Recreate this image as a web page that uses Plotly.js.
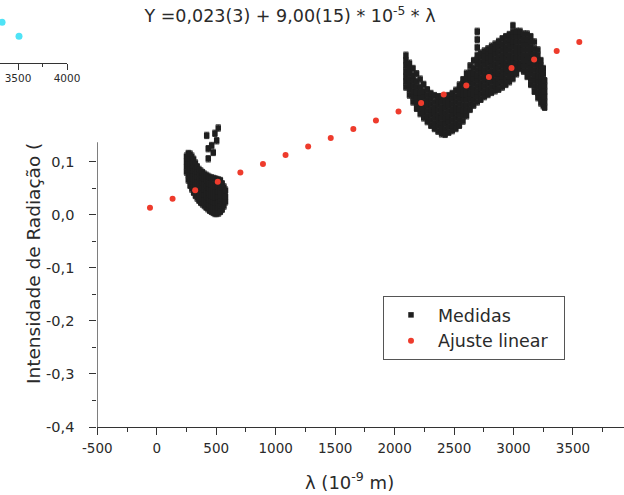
<!DOCTYPE html>
<html>
<head>
<meta charset="utf-8">
<script src="https://cdn.plot.ly/plotly-3.0.1.min.js"></script>
<style>html,body{margin:0;padding:0;background:#fff;}#chart{width:624px;height:495px;}</style>
</head>
<body>
<div id="chart"></div>
<script>
// ---- Data ----
// Cluster 1 (short wavelength): column x positions and the y values read in each column
const c1X = [250,265,280,295,310,325,340,355,370,385,400,415,430,445,460,475,490,505,520,535,550,565,578];
const c1Y = [
  [0.08,0.09,0.1,0.11],
  [0.065,0.075,0.085,0.095,0.105,0.115],
  [0.055,0.065,0.075,0.085,0.095,0.105,0.114],
  [0.048,0.058,0.068,0.078,0.088,0.098,0.11],
  [0.042,0.052,0.062,0.072,0.082,0.092,0.104],
  [0.036,0.046,0.056,0.066,0.076,0.086,0.097],
  [0.031,0.041,0.051,0.061,0.071,0.081,0.09],
  [0.027,0.037,0.047,0.057,0.067,0.077,0.085],
  [0.023,0.033,0.043,0.053,0.063,0.073,0.082],
  [0.02,0.03,0.04,0.05,0.06,0.07,0.079],
  [0.017,0.027,0.037,0.047,0.057,0.067,0.076],
  [0.014,0.024,0.034,0.044,0.054,0.064,0.074],
  [0.011,0.021,0.031,0.041,0.051,0.061,0.072],
  [0.008,0.018,0.028,0.038,0.048,0.058,0.07],
  [0.006,0.016,0.026,0.036,0.046,0.056,0.069],
  [0.004,0.014,0.024,0.034,0.044,0.055,0.068],
  [0.002,0.012,0.022,0.032,0.042,0.053,0.067],
  [0.002,0.012,0.022,0.032,0.042,0.053,0.066],
  [0.003,0.013,0.023,0.033,0.043,0.054,0.065],
  [0.006,0.016,0.026,0.036,0.046,0.056,0.064],
  [0.01,0.02,0.03,0.04,0.05,0.058],
  [0.016,0.026,0.036,0.045,0.052],
  [0.024,0.034,0.046]
];
// isolated points above cluster 1
const spurX = [433,433,462,504,420,489,517,475];
const spurY = [0.105,0.124,0.13,0.139,0.149,0.153,0.163,0.117];

// Cluster 2 (long wavelength)
const c2X = [2095,2125,2155,2185,2215,2245,2275,2305,2335,2365,2395,2425,2455,2485,2515,2545,2575,2605,2635,2665,2695,2725,2755,2785,2815,2845,2875,2905,2935,2965,2995,3025,3055,3085,3115,3145,3175,3205,3230,3250,3262];
const c2Y = [
  [0.24,0.25,0.26,0.27,0.28,0.29,0.3],
  [0.225,0.235,0.245,0.255,0.265,0.275,0.285],
  [0.212,0.222,0.232,0.242,0.252,0.262,0.275],
  [0.2,0.21,0.22,0.23,0.24,0.25,0.265],
  [0.19,0.2,0.21,0.22,0.23,0.24,0.255],
  [0.182,0.192,0.202,0.212,0.222,0.232,0.245],
  [0.175,0.185,0.195,0.205,0.215,0.225,0.235],
  [0.168,0.178,0.188,0.198,0.208,0.218,0.228],
  [0.162,0.172,0.182,0.192,0.202,0.212,0.224],
  [0.157,0.167,0.177,0.187,0.197,0.207,0.215,0.222],
  [0.152,0.162,0.172,0.182,0.192,0.202,0.212,0.222],
  [0.151,0.161,0.171,0.181,0.191,0.201,0.211,0.221],
  [0.155,0.165,0.175,0.185,0.195,0.205,0.215,0.224],
  [0.158,0.168,0.178,0.188,0.198,0.208,0.218,0.228],
  [0.162,0.172,0.182,0.192,0.202,0.212,0.222,0.234],
  [0.168,0.178,0.188,0.198,0.208,0.218,0.228,0.236,0.244],
  [0.176,0.186,0.196,0.206,0.216,0.226,0.236,0.246,0.254],
  [0.186,0.196,0.206,0.216,0.226,0.236,0.246,0.256,0.266],
  [0.198,0.208,0.218,0.228,0.238,0.248,0.258,0.268,0.28],
  [0.206,0.216,0.226,0.236,0.246,0.256,0.266,0.276,0.29],
  [0.212,0.222,0.232,0.242,0.252,0.262,0.272,0.282,0.292,0.3,0.315,0.33,0.345],
  [0.217,0.227,0.237,0.247,0.257,0.267,0.277,0.287,0.297,0.304],
  [0.222,0.232,0.242,0.252,0.262,0.272,0.282,0.292,0.3,0.308],
  [0.226,0.236,0.246,0.256,0.266,0.276,0.286,0.296,0.304,0.312],
  [0.23,0.24,0.25,0.26,0.27,0.28,0.29,0.3,0.309,0.317],
  [0.233,0.243,0.253,0.263,0.273,0.283,0.293,0.303,0.312,0.321],
  [0.236,0.246,0.256,0.266,0.276,0.286,0.296,0.306,0.316,0.326],
  [0.24,0.25,0.26,0.27,0.28,0.29,0.3,0.31,0.32,0.331],
  [0.245,0.255,0.265,0.275,0.285,0.295,0.305,0.315,0.325,0.335],
  [0.25,0.26,0.27,0.28,0.29,0.3,0.31,0.32,0.33,0.339],
  [0.256,0.266,0.276,0.286,0.296,0.306,0.316,0.326,0.336,0.344,0.356],
  [0.265,0.275,0.285,0.295,0.305,0.315,0.325,0.335,0.345],
  [0.275,0.285,0.295,0.305,0.315,0.325,0.335,0.345],
  [0.27,0.28,0.29,0.3,0.31,0.32,0.33,0.34],
  [0.26,0.27,0.28,0.29,0.3,0.31,0.32,0.33,0.34],
  [0.245,0.255,0.265,0.275,0.285,0.295,0.305,0.315,0.325,0.335],
  [0.232,0.242,0.252,0.262,0.272,0.282,0.292,0.302,0.312,0.325],
  [0.22,0.23,0.24,0.25,0.26,0.27,0.28,0.29,0.3,0.31],
  [0.21,0.22,0.23,0.24,0.25,0.26,0.27,0.28,0.29],
  [0.205,0.215,0.225,0.235,0.245,0.255,0.265,0.275],
  [0.202,0.212,0.222,0.232,0.242,0.252]
];
const measErr = 0.006;

// Linear fit points ("Ajuste linear")
const fitX = [-57,133,323,513,703,893,1083,1273,1463,1653,1843,2033,2223,2413,2603,2793,2983,3173,3363,3553];
const fitY = [0.013,0.030,0.046,0.062,0.079,0.095,0.112,0.128,0.144,0.161,0.177,0.194,0.210,0.226,0.243,0.259,0.276,0.292,0.308,0.325];

// Partial inset (top-left corner)
const insetX = [3337, 3510];
const insetY = [0.645, 0.42];
const insetTicks = [3500, 4000];

// Axis ticks
const xTicks = [-500,0,500,1000,1500,2000,2500,3000,3500];
const xMinor = [-250,250,750,1250,1750,2250,2750,3250,3750];
const yTicks = [-0.4,-0.3,-0.2,-0.1,0.0,0.1];
const yTickText = ['-0,4','-0,3','-0,2','-0,1','0,0','0,1'];
const yMinor = [-0.35,-0.25,-0.15,-0.05,0.05];

const titleText = 'Y =0,023(3) + 9,00(15) * 10<sup>-5</sup> * λ';
const xTitle = 'λ (10<sup>-9</sup> m)';
const yTitle = 'Intensidade de Radiação (';

// ---- Build flat measurement arrays ----
const measX = [], measY = [];
function addCols(xs, ys){ xs.forEach((x,i)=>ys[i].forEach(y=>{measX.push(x);measY.push(y);})); }
addCols(c1X, c1Y);
spurX.forEach((x,i)=>{measX.push(x);measY.push(spurY[i]);});
addCols(c2X, c2Y);

const FONT = 'DejaVu Sans, Arial, sans-serif';
const TXT = '#2a2a2a';
const LINE = '#333333';

const W = 624, H = 495, B = 68;
const plotH = H - B;
const x0px = 97.3;

const traces = [
  {
    type:'scatter', mode:'markers', name:'Medidas',
    x: measX, y: measY,
    marker:{symbol:'square', size:5.5, color:'#1f1f1f'},
    error_y:{type:'constant', value:measErr, color:'#333', thickness:1, width:2.5},
    legendgroup:'a', legendrank:1
  },
  {
    type:'scatter', mode:'markers', name:'Ajuste linear\u00a0\u00a0',
    x: fitX, y: fitY,
    marker:{symbol:'circle', size:6, color:'#ee3b2c'},
    legendgroup:'b', legendrank:2
  },
  {
    type:'scatter', mode:'markers', showlegend:false,
    x: insetX, y: insetY, xaxis:'x2', yaxis:'y2',
    marker:{symbol:'circle', size:7, color:'#4fe3f6'},
    cliponaxis:false
  }
];

const layout = {
  width: W, height: H,
  margin:{l:0, r:0, t:0, b:B, pad:0},
  paper_bgcolor:'#fff', plot_bgcolor:'rgba(0,0,0,0)',
  font:{family:FONT, color:TXT, size:14},
  showlegend:true,
  title:{text:titleText, x:290/W, xanchor:'center', xref:'paper', y:1-16/H, yanchor:'middle', yref:'container',
         font:{family:FONT, size:17.5, color:TXT}},
  xaxis:{
    domain:[x0px/W, 1], range:[-500, 3929], anchor:'y',
    showline:true, linecolor:LINE, linewidth:1.2, mirror:false,
    showgrid:false, zeroline:false,
    tickmode:'array', tickvals:xTicks, ticktext:xTicks.map(String),
    ticks:'outside', ticklen:7, tickwidth:1, tickcolor:LINE,
    ticklabelstandoff:2,
    tickfont:{family:FONT, size:13.5, color:TXT},
    minor:{tickmode:'array', tickvals:xMinor, ticks:'outside', ticklen:4, tickwidth:1, tickcolor:LINE}
  },
  yaxis:{
    domain:[0,1], range:[-0.4, 0.404], anchor:'x',
    showline:false, showgrid:false, zeroline:false,
    tickmode:'array', tickvals:yTicks, ticktext:yTickText,
    ticks:'outside', ticklen:7, tickwidth:1, tickcolor:LINE,
    ticklabelstandoff:12,
    tickfont:{family:FONT, size:14.5, color:TXT},
    minor:{tickmode:'array', tickvals:yMinor, ticks:'outside', ticklen:4, tickwidth:1, tickcolor:LINE}
  },
  xaxis2:{
    domain:[0, 67/W], range:[3316, 4000], anchor:'y2',
    showline:true, linecolor:LINE, linewidth:1.2,
    showgrid:false, zeroline:false,
    tickmode:'array', tickvals:insetTicks, ticktext:insetTicks.map(String),
    ticks:'outside', ticklen:6, tickwidth:1, tickcolor:LINE,
    tickfont:{family:FONT, size:10.5, color:TXT},
    minor:{tickmode:'array', tickvals:[3750], ticks:'outside', ticklen:3, tickwidth:1, tickcolor:LINE}
  },
  yaxis2:{
    domain:[(plotH-62.5)/plotH, 1], range:[0,1], anchor:'x2', visible:false
  },
  legend:{
    x:383/W, y:(plotH-296)/plotH, xanchor:'left', yanchor:'top',
    bgcolor:'#fff', bordercolor:'#555', borderwidth:1,
    font:{family:FONT, size:17.5, color:TXT},
    itemwidth:44, traceorder:'grouped', tracegroupgap:0
  },
  shapes:[
    {type:'line', xref:'x', yref:'y', x0:-500, x1:-500, y0:-0.4, y1:0.136,
     line:{color:LINE, width:1.2}}
  ],
  annotations:[
    {text:yTitle, textangle:-90, xref:'paper', yref:'paper',
     x:33/W, y:(plotH-264)/plotH, xanchor:'center', yanchor:'middle',
     showarrow:false, font:{family:FONT, size:18.5, color:TXT}},
    {text:xTitle, xref:'paper', yref:'paper',
     x:349/W, y:(plotH-481)/plotH, xanchor:'center', yanchor:'middle',
     showarrow:false, font:{family:FONT, size:18, color:TXT}}
  ]
};

Plotly.newPlot('chart', traces, layout, {displayModeBar:false, staticPlot:true});
</script>
</body>
</html>
